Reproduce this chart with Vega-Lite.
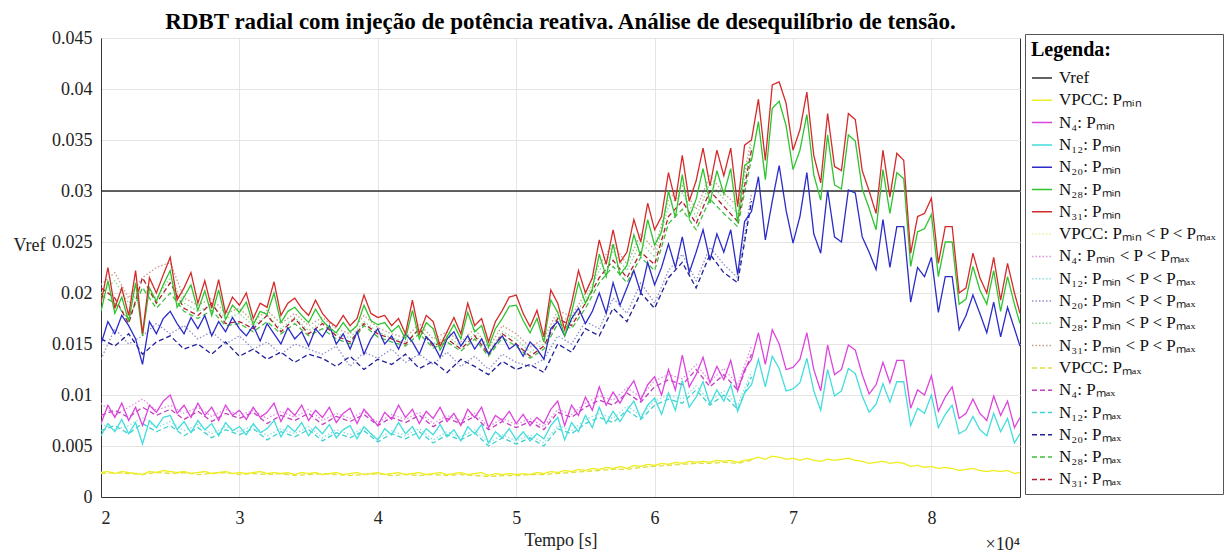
{
"$schema":"https://vega.github.io/schema/vega-lite/v6.json",
"width":919,"height":459,
"autosize":{"type":"none"},
"padding":{"left":101,"top":38,"right":207,"bottom":62},
"background":"white",
"config":{"font":"Liberation Serif","view":{"stroke":"#333333","strokeWidth":1}},
"title":{"text":"RDBT radial com injeção de potência reativa. Análise de desequilíbrio de tensão.","font":"Liberation Serif","fontSize":23,"fontWeight":"bold","color":"#000000","anchor":"middle","frame":"group","offset":-5},
"layer":[
{
"data":{"values":[
{"t":20000,"vr":0.03,"y1":0.0024,"m1":0.0072,"c1":0.0060,"b1":0.0150,"g1":0.0182,"r1":0.0190,"y2":0.0024,"m2":0.0092,"c2":0.0072,"b2":0.0135,"g2":0.0200,"r2":0.0208,"y3":0.0023,"m3":0.0080,"c3":0.0065,"b3":0.0155,"g3":0.0198,"r3":0.0205},
{"t":20500,"y1":0.0025,"m1":0.0090,"c1":0.0072,"b1":0.0172,"g1":0.0212,"r1":0.0225},
{"t":21000,"y1":0.0023,"m1":0.0078,"c1":0.0064,"b1":0.0160,"g1":0.0180,"r1":0.0185,"y2":0.0023,"m2":0.0080,"c2":0.0066,"b2":0.0165,"g2":0.0212,"r2":0.0220,"y3":0.0024,"m3":0.0085,"c3":0.0070,"b3":0.0148,"g3":0.0190,"r3":0.0195},
{"t":21500,"y1":0.0025,"m1":0.0092,"c1":0.0076,"b1":0.0178,"g1":0.0196,"r1":0.0205},
{"t":22000,"y1":0.0024,"m1":0.0075,"c1":0.0062,"b1":0.0168,"g1":0.0172,"r1":0.0178,"y2":0.0024,"m2":0.0088,"c2":0.0070,"b2":0.0150,"g2":0.0190,"r2":0.0195,"y3":0.0023,"m3":0.0078,"c3":0.0062,"b3":0.0160,"g3":0.0175,"r3":0.0170},
{"t":22500,"y1":0.0023,"m1":0.0088,"c1":0.0073,"b1":0.0155,"g1":0.0210,"r1":0.0222},
{"t":23000,"y1":0.0022,"m1":0.0070,"c1":0.0052,"b1":0.0130,"g1":0.0158,"r1":0.0160,"y2":0.0023,"m2":0.0096,"c2":0.0078,"b2":0.0158,"g2":0.0205,"r2":0.0215,"y3":0.0022,"m3":0.0088,"c3":0.0072,"b3":0.0140,"g3":0.0205,"r3":0.0215},
{"t":23500,"y1":0.0025,"m1":0.0090,"c1":0.0075,"b1":0.0172,"g1":0.0205,"r1":0.0215},
{"t":24000,"y1":0.0024,"m1":0.0083,"c1":0.0068,"b1":0.0160,"g1":0.0192,"r1":0.0200,"y2":0.0025,"m2":0.0085,"c2":0.0068,"b2":0.0170,"g2":0.0195,"r2":0.0225,"y3":0.0024,"m3":0.0080,"c3":0.0064,"b3":0.0152,"g3":0.0185,"r3":0.0190},
{"t":24500,"y1":0.0026,"m1":0.0094,"c1":0.0078,"b1":0.0175,"g1":0.0208,"r1":0.0218},
{"t":25000,"y1":0.0025,"m1":0.0100,"c1":0.0080,"b1":0.0182,"g1":0.0222,"r1":0.0235,"y2":0.0024,"m2":0.0090,"c2":0.0074,"b2":0.0160,"g2":0.0215,"r2":0.0230,"y3":0.0023,"m3":0.0086,"c3":0.0070,"b3":0.0158,"g3":0.0200,"r3":0.0210},
{"t":25500,"y1":0.0024,"m1":0.0082,"c1":0.0066,"b1":0.0170,"g1":0.0186,"r1":0.0193},
{"t":26000,"y1":0.0025,"m1":0.0090,"c1":0.0074,"b1":0.0160,"g1":0.0196,"r1":0.0205,"y2":0.0023,"m2":0.0082,"c2":0.0065,"b2":0.0168,"g2":0.0190,"r2":0.0195,"y3":0.0024,"m3":0.0076,"c3":0.0060,"b3":0.0145,"g3":0.0182,"r3":0.0185},
{"t":26500,"y1":0.0023,"m1":0.0078,"c1":0.0063,"b1":0.0176,"g1":0.0208,"r1":0.0220},
{"t":27000,"y1":0.0024,"m1":0.0092,"c1":0.0075,"b1":0.0165,"g1":0.0183,"r1":0.0190,"y2":0.0024,"m2":0.0088,"c2":0.0071,"b2":0.0155,"g2":0.0182,"r2":0.0188,"y3":0.0022,"m3":0.0084,"c3":0.0068,"b3":0.0150,"g3":0.0175,"r3":0.0178},
{"t":27500,"y1":0.0025,"m1":0.0080,"c1":0.0066,"b1":0.0178,"g1":0.0202,"r1":0.0212},
{"t":28000,"y1":0.0023,"m1":0.0088,"c1":0.0072,"b1":0.0158,"g1":0.0178,"r1":0.0185,"y2":0.0024,"m2":0.0079,"c2":0.0062,"b2":0.0162,"g2":0.0188,"r2":0.0195,"y3":0.0023,"m3":0.0074,"c3":0.0058,"b3":0.0140,"g3":0.0183,"r3":0.0190},
{"t":28500,"y1":0.0024,"m1":0.0075,"c1":0.0060,"b1":0.0172,"g1":0.0203,"r1":0.0213},
{"t":29000,"y1":0.0025,"m1":0.0090,"c1":0.0073,"b1":0.0162,"g1":0.0174,"r1":0.0180,"y2":0.0023,"m2":0.0086,"c2":0.0069,"b2":0.0150,"g2":0.0175,"r2":0.0180,"y3":0.0024,"m3":0.0082,"c3":0.0066,"b3":0.0152,"g3":0.0168,"r3":0.0170},
{"t":29500,"y1":0.0023,"m1":0.0080,"c1":0.0065,"b1":0.0176,"g1":0.0188,"r1":0.0196},
{"t":30000,"y1":0.0024,"m1":0.0085,"c1":0.0069,"b1":0.0165,"g1":0.0181,"r1":0.0188,"y2":0.0023,"m2":0.0080,"c2":0.0064,"b2":0.0158,"g2":0.0180,"r2":0.0185,"y3":0.0022,"m3":0.0077,"c3":0.0061,"b3":0.0138,"g3":0.0170,"r3":0.0172},
{"t":30500,"y1":0.0023,"m1":0.0076,"c1":0.0061,"b1":0.0158,"g1":0.0191,"r1":0.0200},
{"t":31000,"y1":0.0024,"m1":0.0088,"c1":0.0072,"b1":0.0168,"g1":0.0169,"r1":0.0175,"y2":0.0024,"m2":0.0085,"c2":0.0070,"b2":0.0145,"g2":0.0168,"r2":0.0172,"y3":0.0023,"m3":0.0083,"c3":0.0067,"b3":0.0145,"g3":0.0162,"r3":0.0165},
{"t":31500,"y1":0.0025,"m1":0.0078,"c1":0.0063,"b1":0.0153,"g1":0.0182,"r1":0.0190},
{"t":32000,"y1":0.0023,"m1":0.0083,"c1":0.0067,"b1":0.0170,"g1":0.0179,"r1":0.0186,"y2":0.0023,"m2":0.0077,"c2":0.0060,"b2":0.0152,"g2":0.0178,"r2":0.0183,"y3":0.0022,"m3":0.0072,"c3":0.0056,"b3":0.0135,"g3":0.0172,"r3":0.0178},
{"t":32500,"y1":0.0024,"m1":0.0092,"c1":0.0075,"b1":0.0160,"g1":0.0200,"r1":0.0211},
{"t":33000,"y1":0.0023,"m1":0.0074,"c1":0.0059,"b1":0.0150,"g1":0.0171,"r1":0.0178,"y2":0.0022,"m2":0.0084,"c2":0.0067,"b2":0.0140,"g2":0.0165,"r2":0.0170,"y3":0.0023,"m3":0.0080,"c3":0.0064,"b3":0.0142,"g3":0.0160,"r3":0.0162},
{"t":33500,"y1":0.0024,"m1":0.0087,"c1":0.0070,"b1":0.0166,"g1":0.0182,"r1":0.0190},
{"t":34000,"y1":0.0022,"m1":0.0080,"c1":0.0064,"b1":0.0155,"g1":0.0186,"r1":0.0195,"y2":0.0023,"m2":0.0078,"c2":0.0062,"b2":0.0150,"g2":0.0176,"r2":0.0180,"y3":0.0021,"m3":0.0075,"c3":0.0059,"b3":0.0132,"g3":0.0170,"r3":0.0175},
{"t":34500,"y1":0.0024,"m1":0.0090,"c1":0.0073,"b1":0.0162,"g1":0.0178,"r1":0.0185},
{"t":35000,"y1":0.0023,"m1":0.0075,"c1":0.0060,"b1":0.0148,"g1":0.0171,"r1":0.0178,"y2":0.0023,"m2":0.0086,"c2":0.0069,"b2":0.0145,"g2":0.0163,"r2":0.0168,"y3":0.0022,"m3":0.0082,"c3":0.0066,"b3":0.0140,"g3":0.0158,"r3":0.0160},
{"t":35500,"y1":0.0024,"m1":0.0085,"c1":0.0069,"b1":0.0165,"g1":0.0184,"r1":0.0193},
{"t":36000,"y1":0.0022,"m1":0.0078,"c1":0.0062,"b1":0.0157,"g1":0.0173,"r1":0.0180,"y2":0.0022,"m2":0.0075,"c2":0.0058,"b2":0.0140,"g2":0.0172,"r2":0.0176,"y3":0.0023,"m3":0.0071,"c3":0.0055,"b3":0.0136,"g3":0.0165,"r3":0.0170},
{"t":36500,"y1":0.0023,"m1":0.0088,"c1":0.0071,"b1":0.0168,"g1":0.0166,"r1":0.0172},
{"t":37000,"y1":0.0024,"m1":0.0073,"c1":0.0058,"b1":0.0150,"g1":0.0161,"r1":0.0167,"y2":0.0023,"m2":0.0082,"c2":0.0066,"b2":0.0148,"g2":0.0160,"r2":0.0165,"y3":0.0022,"m3":0.0079,"c3":0.0063,"b3":0.0128,"g3":0.0155,"r3":0.0158},
{"t":37500,"y1":0.0022,"m1":0.0082,"c1":0.0066,"b1":0.0160,"g1":0.0171,"r1":0.0178},
{"t":38000,"y1":0.0023,"m1":0.0087,"c1":0.0070,"b1":0.0145,"g1":0.0162,"r1":0.0168,"y2":0.0022,"m2":0.0077,"c2":0.0061,"b2":0.0128,"g2":0.0156,"r2":0.0160,"y3":0.0021,"m3":0.0074,"c3":0.0058,"b3":0.0138,"g3":0.0150,"r3":0.0152},
{"t":38500,"y1":0.0024,"m1":0.0072,"c1":0.0057,"b1":0.0162,"g1":0.0168,"r1":0.0175},
{"t":39000,"y1":0.0022,"m1":0.0086,"c1":0.0069,"b1":0.0140,"g1":0.0188,"r1":0.0198,"y2":0.0023,"m2":0.0084,"c2":0.0068,"b2":0.0142,"g2":0.0172,"r2":0.0178,"y3":0.0022,"m3":0.0081,"c3":0.0065,"b3":0.0125,"g3":0.0168,"r3":0.0170},
{"t":39500,"y1":0.0023,"m1":0.0078,"c1":0.0062,"b1":0.0155,"g1":0.0173,"r1":0.0180},
{"t":40000,"y1":0.0024,"m1":0.0070,"c1":0.0056,"b1":0.0165,"g1":0.0169,"r1":0.0176,"y2":0.0022,"m2":0.0073,"c2":0.0057,"b2":0.0136,"g2":0.0162,"r2":0.0166,"y3":0.0023,"m3":0.0070,"c3":0.0054,"b3":0.0135,"g3":0.0157,"r3":0.0160},
{"t":40500,"y1":0.0022,"m1":0.0083,"c1":0.0067,"b1":0.0150,"g1":0.0171,"r1":0.0178},
{"t":41000,"y1":0.0023,"m1":0.0076,"c1":0.0061,"b1":0.0158,"g1":0.0162,"r1":0.0168,"y2":0.0023,"m2":0.0081,"c2":0.0065,"b2":0.0145,"g2":0.0156,"r2":0.0160,"y3":0.0021,"m3":0.0078,"c3":0.0062,"b3":0.0130,"g3":0.0152,"r3":0.0155},
{"t":41500,"y1":0.0024,"m1":0.0090,"c1":0.0073,"b1":0.0145,"g1":0.0168,"r1":0.0175},
{"t":42000,"y1":0.0022,"m1":0.0078,"c1":0.0062,"b1":0.0160,"g1":0.0155,"r1":0.0160,"y2":0.0023,"m2":0.0076,"c2":0.0060,"b2":0.0132,"g2":0.0152,"r2":0.0156,"y3":0.0022,"m3":0.0073,"c3":0.0057,"b3":0.0140,"g3":0.0148,"r3":0.0150},
{"t":42500,"y1":0.0023,"m1":0.0086,"c1":0.0069,"b1":0.0152,"g1":0.0183,"r1":0.0193},
{"t":43000,"y1":0.0024,"m1":0.0072,"c1":0.0057,"b1":0.0140,"g1":0.0155,"r1":0.0160,"y2":0.0022,"m2":0.0083,"c2":0.0067,"b2":0.0140,"g2":0.0165,"r2":0.0170,"y3":0.0021,"m3":0.0080,"c3":0.0064,"b3":0.0126,"g3":0.0160,"r3":0.0165},
{"t":43500,"y1":0.0022,"m1":0.0084,"c1":0.0067,"b1":0.0157,"g1":0.0171,"r1":0.0178},
{"t":44000,"y1":0.0023,"m1":0.0077,"c1":0.0061,"b1":0.0150,"g1":0.0165,"r1":0.0172,"y2":0.0023,"m2":0.0072,"c2":0.0056,"b2":0.0130,"g2":0.0150,"r2":0.0155,"y3":0.0022,"m3":0.0069,"c3":0.0053,"b3":0.0133,"g3":0.0146,"r3":0.0148},
{"t":44500,"y1":0.0024,"m1":0.0088,"c1":0.0071,"b1":0.0137,"g1":0.0144,"r1":0.0148},
{"t":45000,"y1":0.0022,"m1":0.0074,"c1":0.0059,"b1":0.0155,"g1":0.0157,"r1":0.0162,"y2":0.0022,"m2":0.0080,"c2":0.0064,"b2":0.0142,"g2":0.0158,"r2":0.0162,"y3":0.0021,"m3":0.0077,"c3":0.0061,"b3":0.0122,"g3":0.0152,"r3":0.0155},
{"t":45500,"y1":0.0023,"m1":0.0082,"c1":0.0066,"b1":0.0162,"g1":0.0169,"r1":0.0176},
{"t":46000,"y1":0.0024,"m1":0.0070,"c1":0.0055,"b1":0.0148,"g1":0.0155,"r1":0.0160,"y2":0.0023,"m2":0.0075,"c2":0.0059,"b2":0.0128,"g2":0.0148,"r2":0.0152,"y3":0.0022,"m3":0.0072,"c3":0.0056,"b3":0.0135,"g3":0.0143,"r3":0.0145},
{"t":46500,"y1":0.0022,"m1":0.0086,"c1":0.0069,"b1":0.0158,"g1":0.0181,"r1":0.0190},
{"t":47000,"y1":0.0023,"m1":0.0078,"c1":0.0062,"b1":0.0145,"g1":0.0162,"r1":0.0168,"y2":0.0022,"m2":0.0082,"c2":0.0066,"b2":0.0138,"g2":0.0160,"r2":0.0165,"y3":0.0021,"m3":0.0079,"c3":0.0063,"b3":0.0128,"g3":0.0155,"r3":0.0158},
{"t":47500,"y1":0.0024,"m1":0.0088,"c1":0.0071,"b1":0.0155,"g1":0.0168,"r1":0.0175},
{"t":48000,"y1":0.0021,"m1":0.0068,"c1":0.0053,"b1":0.0140,"g1":0.0147,"r1":0.0152,"y2":0.0021,"m2":0.0069,"c2":0.0053,"b2":0.0125,"g2":0.0142,"r2":0.0146,"y3":0.0020,"m3":0.0066,"c3":0.0050,"b3":0.0120,"g3":0.0138,"r3":0.0140},
{"t":48500,"y1":0.0023,"m1":0.0080,"c1":0.0064,"b1":0.0150,"g1":0.0165,"r1":0.0172},
{"t":49000,"y1":0.0022,"m1":0.0075,"c1":0.0058,"b1":0.0158,"g1":0.0175,"r1":0.0183,"y2":0.0022,"m2":0.0077,"c2":0.0061,"b2":0.0140,"g2":0.0162,"r2":0.0168,"y3":0.0021,"m3":0.0074,"c3":0.0058,"b3":0.0133,"g3":0.0156,"r3":0.0160},
{"t":49500,"y1":0.0023,"m1":0.0084,"c1":0.0067,"b1":0.0145,"g1":0.0187,"r1":0.0196},
{"t":50000,"y1":0.0022,"m1":0.0072,"c1":0.0056,"b1":0.0150,"g1":0.0188,"r1":0.0198,"y2":0.0022,"m2":0.0071,"c2":0.0055,"b2":0.0132,"g2":0.0155,"r2":0.0160,"y3":0.0021,"m3":0.0068,"c3":0.0052,"b3":0.0125,"g3":0.0148,"r3":0.0150},
{"t":50500,"y1":0.0023,"m1":0.0081,"c1":0.0064,"b1":0.0138,"g1":0.0173,"r1":0.0180},
{"t":51000,"y1":0.0022,"m1":0.0070,"c1":0.0055,"b1":0.0152,"g1":0.0161,"r1":0.0167,"y2":0.0022,"m2":0.0077,"c2":0.0061,"b2":0.0128,"g2":0.0142,"r2":0.0147,"y3":0.0022,"m3":0.0074,"c3":0.0058,"b3":0.0130,"g3":0.0136,"r3":0.0138},
{"t":51500,"y1":0.0024,"m1":0.0078,"c1":0.0062,"b1":0.0145,"g1":0.0175,"r1":0.0183},
{"t":52000,"y1":0.0023,"m1":0.0072,"c1":0.0057,"b1":0.0135,"g1":0.0152,"r1":0.0157,"y2":0.0023,"m2":0.0069,"c2":0.0053,"b2":0.0135,"g2":0.0150,"r2":0.0155,"y3":0.0022,"m3":0.0066,"c3":0.0050,"b3":0.0122,"g3":0.0145,"r3":0.0148},
{"t":52500,"y1":0.0025,"m1":0.0086,"c1":0.0070,"b1":0.0165,"g1":0.0193,"r1":0.0203},
{"t":53000,"y1":0.0024,"m1":0.0094,"c1":0.0078,"b1":0.0172,"g1":0.0181,"r1":0.0190,"y2":0.0024,"m2":0.0086,"c2":0.0070,"b2":0.0158,"g2":0.0178,"r2":0.0183,"y3":0.0023,"m3":0.0083,"c3":0.0067,"b3":0.0150,"g3":0.0170,"r3":0.0175},
{"t":53500,"y1":0.0026,"m1":0.0070,"c1":0.0056,"b1":0.0158,"g1":0.0158,"r1":0.0164},
{"t":54000,"y1":0.0025,"m1":0.0090,"c1":0.0073,"b1":0.0175,"g1":0.0181,"r1":0.0190,"y2":0.0025,"m2":0.0081,"c2":0.0065,"b2":0.0150,"g2":0.0172,"r2":0.0177,"y3":0.0024,"m3":0.0078,"c3":0.0062,"b3":0.0142,"g3":0.0165,"r3":0.0168},
{"t":54500,"y1":0.0027,"m1":0.0080,"c1":0.0064,"b1":0.0185,"g1":0.0210,"r1":0.0222},
{"t":55000,"y1":0.0026,"m1":0.0098,"c1":0.0080,"b1":0.0170,"g1":0.0190,"r1":0.0200,"y2":0.0026,"m2":0.0092,"c2":0.0076,"b2":0.0172,"g2":0.0195,"r2":0.0200,"y3":0.0025,"m3":0.0088,"c3":0.0072,"b3":0.0165,"g3":0.0185,"r3":0.0190},
{"t":55500,"y1":0.0028,"m1":0.0085,"c1":0.0068,"b1":0.0182,"g1":0.0204,"r1":0.0215},
{"t":56000,"y1":0.0027,"m1":0.0108,"c1":0.0088,"b1":0.0200,"g1":0.0238,"r1":0.0252,"y2":0.0027,"m2":0.0099,"c2":0.0082,"b2":0.0165,"g2":0.0222,"r2":0.0228,"y3":0.0026,"m3":0.0095,"c3":0.0078,"b3":0.0158,"g3":0.0210,"r3":0.0215},
{"t":56500,"y1":0.0029,"m1":0.0090,"c1":0.0072,"b1":0.0180,"g1":0.0216,"r1":0.0228},
{"t":57000,"y1":0.0028,"m1":0.0103,"c1":0.0084,"b1":0.0210,"g1":0.0248,"r1":0.0262,"y2":0.0028,"m2":0.0095,"c2":0.0077,"b2":0.0195,"g2":0.0240,"r2":0.0248,"y3":0.0027,"m3":0.0090,"c3":0.0073,"b3":0.0185,"g3":0.0226,"r3":0.0232},
{"t":57500,"y1":0.0030,"m1":0.0092,"c1":0.0074,"b1":0.0188,"g1":0.0218,"r1":0.0230},
{"t":58000,"y1":0.0028,"m1":0.0104,"c1":0.0085,"b1":0.0205,"g1":0.0227,"r1":0.0240,"y2":0.0029,"m2":0.0107,"c2":0.0089,"b2":0.0180,"g2":0.0222,"r2":0.0228,"y3":0.0027,"m3":0.0102,"c3":0.0085,"b3":0.0172,"g3":0.0210,"r3":0.0215},
{"t":58500,"y1":0.0031,"m1":0.0114,"c1":0.0094,"b1":0.0222,"g1":0.0257,"r1":0.0272},
{"t":59000,"y1":0.0030,"m1":0.0095,"c1":0.0077,"b1":0.0200,"g1":0.0236,"r1":0.0250,"y2":0.0030,"m2":0.0098,"c2":0.0080,"b2":0.0210,"g2":0.0250,"r2":0.0258,"y3":0.0029,"m3":0.0093,"c3":0.0076,"b3":0.0200,"g3":0.0235,"r3":0.0240},
{"t":59500,"y1":0.0032,"m1":0.0110,"c1":0.0090,"b1":0.0230,"g1":0.0272,"r1":0.0288},
{"t":60000,"y1":0.0031,"m1":0.0118,"c1":0.0097,"b1":0.0208,"g1":0.0247,"r1":0.0262,"y2":0.0031,"m2":0.0114,"c2":0.0094,"b2":0.0190,"g2":0.0235,"r2":0.0242,"y3":0.0030,"m3":0.0108,"c3":0.0090,"b3":0.0185,"g3":0.0222,"r3":0.0228},
{"t":60500,"y1":0.0033,"m1":0.0100,"c1":0.0081,"b1":0.0225,"g1":0.0260,"r1":0.0275},
{"t":61000,"y1":0.0032,"m1":0.0125,"c1":0.0102,"b1":0.0248,"g1":0.0300,"r1":0.0318,"y2":0.0032,"m2":0.0120,"c2":0.0100,"b2":0.0222,"g2":0.0285,"r2":0.0292,"y3":0.0031,"m3":0.0115,"c3":0.0096,"b3":0.0215,"g3":0.0268,"r3":0.0275},
{"t":61500,"y1":0.0034,"m1":0.0105,"c1":0.0085,"b1":0.0225,"g1":0.0274,"r1":0.0290},
{"t":62000,"y1":0.0033,"m1":0.0139,"c1":0.0114,"b1":0.0255,"g1":0.0316,"r1":0.0335,"y2":0.0033,"m2":0.0116,"c2":0.0096,"b2":0.0238,"g2":0.0298,"r2":0.0305,"y3":0.0032,"m3":0.0110,"c3":0.0092,"b3":0.0230,"g3":0.0282,"r3":0.0290},
{"t":62500,"y1":0.0035,"m1":0.0108,"c1":0.0088,"b1":0.0220,"g1":0.0274,"r1":0.0290},
{"t":63000,"y1":0.0034,"m1":0.0120,"c1":0.0098,"b1":0.0240,"g1":0.0292,"r1":0.0310,"y2":0.0034,"m2":0.0130,"c2":0.0109,"b2":0.0212,"g2":0.0275,"r2":0.0282,"y3":0.0033,"m3":0.0125,"c3":0.0105,"b3":0.0205,"g3":0.0262,"r3":0.0268},
{"t":63500,"y1":0.0035,"m1":0.0137,"c1":0.0113,"b1":0.0262,"g1":0.0322,"r1":0.0342},
{"t":64000,"y1":0.0034,"m1":0.0112,"c1":0.0091,"b1":0.0232,"g1":0.0288,"r1":0.0305,"y2":0.0034,"m2":0.0113,"c2":0.0094,"b2":0.0245,"g2":0.0308,"r2":0.0315,"y3":0.0033,"m3":0.0108,"c3":0.0090,"b3":0.0238,"g3":0.0292,"r3":0.0300},
{"t":64500,"y1":0.0036,"m1":0.0128,"c1":0.0105,"b1":0.0258,"g1":0.0320,"r1":0.0340},
{"t":65000,"y1":0.0035,"m1":0.0115,"c1":0.0094,"b1":0.0240,"g1":0.0297,"r1":0.0315,"y2":0.0035,"m2":0.0126,"c2":0.0104,"b2":0.0228,"g2":0.0292,"r2":0.0298,"y3":0.0034,"m3":0.0120,"c3":0.0100,"b3":0.0220,"g3":0.0278,"r3":0.0285},
{"t":65500,"y1":0.0036,"m1":0.0134,"c1":0.0110,"b1":0.0262,"g1":0.0322,"r1":0.0342},
{"t":66000,"y1":0.0034,"m1":0.0104,"c1":0.0084,"b1":0.0218,"g1":0.0269,"r1":0.0285,"y2":0.0034,"m2":0.0110,"c2":0.0090,"b2":0.0215,"g2":0.0278,"r2":0.0285,"y3":0.0033,"m3":0.0105,"c3":0.0086,"b3":0.0210,"g3":0.0265,"r3":0.0270},
{"t":66500,"y1":0.0036,"m1":0.0125,"c1":0.0102,"b1":0.0270,"g1":0.0325,"r1":0.0345},
{"t":67000,"y1":0.0037,"m1":0.0135,"c1":0.0110,"b1":0.0280,"g1":0.0330,"r1":0.0350,"y2":0.0037,"m2":0.0148,"c2":0.0123,"b2":0.0298,"g2":0.0345,"r2":0.0352,"y3":0.0036,"m3":0.0140,"c3":0.0118,"b3":0.0290,"g3":0.0332,"r3":0.0340},
{"t":67500,"y1":0.0039,"m1":0.0161,"c1":0.0135,"b1":0.0314,"g1":0.0368,"r1":0.0390},
{"t":68000,"y1":0.0037,"m1":0.0130,"c1":0.0108,"b1":0.0252,"g1":0.0311,"r1":0.0330},
{"t":68500,"y1":0.0040,"m1":0.0164,"c1":0.0138,"b1":0.0290,"g1":0.0381,"r1":0.0404},
{"t":69000,"y1":0.0039,"m1":0.0150,"c1":0.0126,"b1":0.0325,"g1":0.0388,"r1":0.0407},
{"t":69500,"y1":0.0037,"m1":0.0125,"c1":0.0104,"b1":0.0281,"g1":0.0364,"r1":0.0386},
{"t":70000,"y1":0.0038,"m1":0.0127,"c1":0.0106,"b1":0.0249,"g1":0.0321,"r1":0.0340},
{"t":70500,"y1":0.0036,"m1":0.0135,"c1":0.0112,"b1":0.0275,"g1":0.0340,"r1":0.0360},
{"t":71000,"y1":0.0038,"m1":0.0161,"c1":0.0136,"b1":0.0318,"g1":0.0375,"r1":0.0397},
{"t":71500,"y1":0.0036,"m1":0.0125,"c1":0.0104,"b1":0.0258,"g1":0.0316,"r1":0.0335},
{"t":72000,"y1":0.0035,"m1":0.0104,"c1":0.0085,"b1":0.0239,"g1":0.0291,"r1":0.0308},
{"t":72500,"y1":0.0037,"m1":0.0149,"c1":0.0125,"b1":0.0301,"g1":0.0355,"r1":0.0376},
{"t":73000,"y1":0.0036,"m1":0.0120,"c1":0.0099,"b1":0.0255,"g1":0.0306,"r1":0.0324},
{"t":73500,"y1":0.0037,"m1":0.0125,"c1":0.0104,"b1":0.0250,"g1":0.0302,"r1":0.0320},
{"t":74000,"y1":0.0038,"m1":0.0149,"c1":0.0126,"b1":0.0301,"g1":0.0355,"r1":0.0376},
{"t":74500,"y1":0.0036,"m1":0.0144,"c1":0.0121,"b1":0.0298,"g1":0.0349,"r1":0.0370},
{"t":75000,"y1":0.0035,"m1":0.0120,"c1":0.0099,"b1":0.0255,"g1":0.0302,"r1":0.0320},
{"t":75500,"y1":0.0033,"m1":0.0101,"c1":0.0083,"b1":0.0240,"g1":0.0283,"r1":0.0300},
{"t":76000,"y1":0.0034,"m1":0.0110,"c1":0.0091,"b1":0.0223,"g1":0.0262,"r1":0.0278},
{"t":76500,"y1":0.0035,"m1":0.0132,"c1":0.0111,"b1":0.0272,"g1":0.0321,"r1":0.0340},
{"t":77000,"y1":0.0033,"m1":0.0112,"c1":0.0093,"b1":0.0225,"g1":0.0278,"r1":0.0294},
{"t":77500,"y1":0.0034,"m1":0.0134,"c1":0.0113,"b1":0.0265,"g1":0.0318,"r1":0.0337},
{"t":78000,"y1":0.0033,"m1":0.0134,"c1":0.0113,"b1":0.0265,"g1":0.0312,"r1":0.0330},
{"t":78500,"y1":0.0030,"m1":0.0087,"c1":0.0070,"b1":0.0191,"g1":0.0226,"r1":0.0239},
{"t":79000,"y1":0.0031,"m1":0.0105,"c1":0.0087,"b1":0.0225,"g1":0.0260,"r1":0.0275},
{"t":79500,"y1":0.0029,"m1":0.0100,"c1":0.0082,"b1":0.0216,"g1":0.0263,"r1":0.0278},
{"t":80000,"y1":0.0030,"m1":0.0119,"c1":0.0100,"b1":0.0235,"g1":0.0277,"r1":0.0293},
{"t":80500,"y1":0.0028,"m1":0.0084,"c1":0.0068,"b1":0.0181,"g1":0.0216,"r1":0.0229},
{"t":81000,"y1":0.0029,"m1":0.0098,"c1":0.0081,"b1":0.0216,"g1":0.0250,"r1":0.0265},
{"t":81500,"y1":0.0028,"m1":0.0108,"c1":0.0090,"b1":0.0216,"g1":0.0250,"r1":0.0265},
{"t":82000,"y1":0.0026,"m1":0.0077,"c1":0.0062,"b1":0.0164,"g1":0.0189,"r1":0.0200},
{"t":82500,"y1":0.0027,"m1":0.0082,"c1":0.0066,"b1":0.0178,"g1":0.0194,"r1":0.0205},
{"t":83000,"y1":0.0028,"m1":0.0096,"c1":0.0079,"b1":0.0198,"g1":0.0226,"r1":0.0239},
{"t":83500,"y1":0.0026,"m1":0.0082,"c1":0.0066,"b1":0.0180,"g1":0.0203,"r1":0.0215},
{"t":84000,"y1":0.0025,"m1":0.0075,"c1":0.0060,"b1":0.0161,"g1":0.0189,"r1":0.0200},
{"t":84500,"y1":0.0026,"m1":0.0099,"c1":0.0082,"b1":0.0191,"g1":0.0222,"r1":0.0235},
{"t":85000,"y1":0.0025,"m1":0.0080,"c1":0.0064,"b1":0.0157,"g1":0.0182,"r1":0.0193},
{"t":85500,"y1":0.0026,"m1":0.0094,"c1":0.0077,"b1":0.0186,"g1":0.0216,"r1":0.0229},
{"t":86000,"y1":0.0023,"m1":0.0068,"c1":0.0053,"b1":0.0165,"g1":0.0189,"r1":0.0200},
{"t":86400,"vr":0.03,"y1":0.0024,"m1":0.0078,"c1":0.0062,"b1":0.0148,"g1":0.0170,"r1":0.0180}
]},
"transform":[
{"fold":["y2","m2","c2","b2","g2","r2","y3","m3","c3","b3","g3","r3","vr","y1","m1","c1","b1","g1","r1"],"as":["k","v"]},
{"filter":"isValid(datum.v)"}
],
"mark":{"type":"line","strokeWidth":1.3,"clip":true},
"encoding":{
"x":{"field":"t","type":"quantitative","scale":{"domain":[20000,86400],"nice":false,"zero":false},
 "axis":{"values":[20000,30000,40000,50000,60000,70000,80000],"labelExpr":"format(datum.value/10000,'d')","title":"Tempo [s]","titleFont":"Liberation Serif","titleFontSize":18,"titleFontWeight":"normal","titleColor":"#222222","titlePadding":4,"labelFont":"Liberation Serif","labelFontSize":18,"labelColor":"#222222","labelPadding":12,"ticks":false,"domainColor":"#333333","grid":true,"gridColor":"#e4e4e4"}},
"y":{"field":"v","type":"quantitative","scale":{"domain":[0,0.045],"nice":false},
 "axis":{"values":[0,0.005,0.01,0.015,0.02,0.025,0.03,0.035,0.04,0.045],"format":".3~f","title":"Vref","titleAngle":0,"titleAlign":"left","titleBaseline":"middle","titleX":-88,"titleY":207,"titleFont":"Liberation Serif","titleFontSize":18,"titleFontWeight":"normal","titleColor":"#222222","labelFont":"Liberation Serif","labelFontSize":18,"labelColor":"#222222","labelPadding":9,"ticks":false,"domainColor":"#333333","grid":true,"gridColor":"#e4e4e4"}},
"color":{"field":"k","type":"nominal",
 "scale":{"domain":["vr","y1","m1","c1","b1","g1","r1","y2","m2","c2","b2","g2","r2","y3","m3","c3","b3","g3","r3"],
  "range":["#303030","#eeee22","#dd44dd","#44dddd","#2b2bc8","#2ec42e","#d42a2a","#f0f0a0","#e090e0","#90e0e0","#9090c8","#90d890","#c89a8a","#e0e040","#c040c0","#40d0d0","#20209a","#40c040","#b02030"]},
 "legend":{"title":"Legenda:","orient":"none","legendX":924,"legendY":-4,"padding":6,"fillColor":"white","strokeColor":"#555555","titleFont":"Liberation Serif","titleFontSize":20,"titleFontWeight":"bold","titleColor":"#000000","titlePadding":7,"labelFont":"Liberation Serif","labelFontSize":17,"labelColor":"#111111","symbolType":"stroke","symbolSize":400,"symbolStrokeWidth":1.5,"rowPadding":3.3,"labelOffset":6,
  "labelExpr":"{'vr':'Vref','y1':'VPCC: Pₘᵢₙ','m1':'N₄: Pₘᵢₙ','c1':'N₁₂: Pₘᵢₙ','b1':'N₂₀: Pₘᵢₙ','g1':'N₂₈: Pₘᵢₙ','r1':'N₃₁: Pₘᵢₙ','y2':'VPCC: Pₘᵢₙ < P < Pₘₐₓ','m2':'N₄: Pₘᵢₙ < P < Pₘₐₓ','c2':'N₁₂: Pₘᵢₙ < P < Pₘₐₓ','b2':'N₂₀: Pₘᵢₙ < P < Pₘₐₓ','g2':'N₂₈: Pₘᵢₙ < P < Pₘₐₓ','r2':'N₃₁: Pₘᵢₙ < P < Pₘₐₓ','y3':'VPCC: Pₘₐₓ','m3':'N₄: Pₘₐₓ','c3':'N₁₂: Pₘₐₓ','b3':'N₂₀: Pₘₐₓ','g3':'N₂₈: Pₘₐₓ','r3':'N₃₁: Pₘₐₓ'}[datum.label]"}},
"strokeDash":{"field":"k","type":"nominal",
 "scale":{"domain":["vr","y1","m1","c1","b1","g1","r1","y2","m2","c2","b2","g2","r2","y3","m3","c3","b3","g3","r3"],
  "range":[[1,0],[1,0],[1,0],[1,0],[1,0],[1,0],[1,0],[1.5,2],[1.5,2],[1.5,2],[1.5,2],[1.5,2],[1.5,2],[5,3],[5,3],[5,3],[5,3],[5,3],[5,3]]},
 "legend":{"title":"Legenda:","orient":"none","legendX":924,"legendY":-4,"padding":6,"fillColor":"white","strokeColor":"#555555","titleFont":"Liberation Serif","titleFontSize":20,"titleFontWeight":"bold","titleColor":"#000000","titlePadding":7,"labelFont":"Liberation Serif","labelFontSize":17,"labelColor":"#111111","symbolType":"stroke","symbolSize":400,"symbolStrokeWidth":1.5,"rowPadding":3.3,"labelOffset":6,
  "labelExpr":"{'vr':'Vref','y1':'VPCC: Pₘᵢₙ','m1':'N₄: Pₘᵢₙ','c1':'N₁₂: Pₘᵢₙ','b1':'N₂₀: Pₘᵢₙ','g1':'N₂₈: Pₘᵢₙ','r1':'N₃₁: Pₘᵢₙ','y2':'VPCC: Pₘᵢₙ < P < Pₘₐₓ','m2':'N₄: Pₘᵢₙ < P < Pₘₐₓ','c2':'N₁₂: Pₘᵢₙ < P < Pₘₐₓ','b2':'N₂₀: Pₘᵢₙ < P < Pₘₐₓ','g2':'N₂₈: Pₘᵢₙ < P < Pₘₐₓ','r2':'N₃₁: Pₘᵢₙ < P < Pₘₐₓ','y3':'VPCC: Pₘₐₓ','m3':'N₄: Pₘₐₓ','c3':'N₁₂: Pₘₐₓ','b3':'N₂₀: Pₘₐₓ','g3':'N₂₈: Pₘₐₓ','r3':'N₃₁: Pₘₐₓ'}[datum.label]"}}
}
},
{
"data":{"values":[{"t":86400,"v":0}]},
"mark":{"type":"text","text":"×10⁴","align":"right","baseline":"middle","dy":48,"font":"Liberation Serif","fontSize":18,"color":"#222222"},
"encoding":{"x":{"field":"t","type":"quantitative"},"y":{"field":"v","type":"quantitative"}}
}
]
}
